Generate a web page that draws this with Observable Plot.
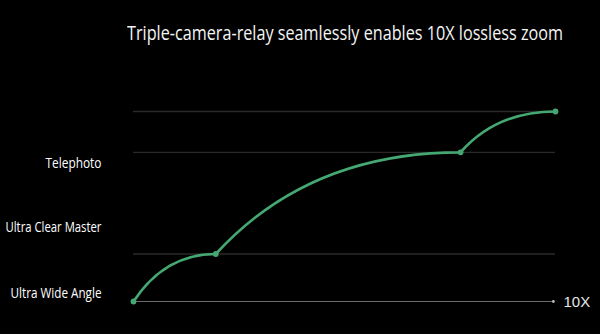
<!DOCTYPE html>
<html>
<head>
<meta charset="utf-8">
<script src="https://cdn.jsdelivr.net/npm/d3@7"></script>
<script src="https://cdn.jsdelivr.net/npm/@observablehq/plot@0.6"></script>
<style>
  html, body { margin: 0; padding: 0; background: #000; }
  body { width: 600px; height: 334px; position: relative; overflow: hidden; font-family: "Open Sans", "Noto Sans", sans-serif; }
  #title { position: absolute; left: 127px; top: 21px; font-size: 20px; line-height: 24px; color: #f4f4f4; white-space: nowrap; transform-origin: 0 50%; }
  #chart { position: absolute; left: 0; top: 60px; }
</style>
</head>
<body>
<div id="title"></div>
<div id="chart"></div>
<script>
// ---- data ----
const titleText = "Triple-camera-relay seamlessly enables 10X lossless zoom";
const zoomX = [0, 1.95, 7.75, 10];          // relay switch points along zoom axis
const levelY = [0, 0.25, 0.785, 1];         // relative level at each point
const gridLevels = [0.25, 0.785, 1];
const tickPositions = [0.04, 0.39, 0.726];
const tickLabels = ["Ultra Wide Angle", "Ultra Clear Master", "Telephoto"];
const maxZoomLabel = "10X";

const points = zoomX.map((x, i) => ({x, y: levelY[i]}));

// custom curve: each segment rises and flattens to a horizontal tangent
const K = 0.38;
function relayCurve(context) {
  let px, py, i = 0;
  return {
    areaStart() {}, areaEnd() {},
    lineStart() { i = 0; },
    lineEnd() {},
    point(x, y) {
      x = +x; y = +y;
      if (i++ === 0) context.moveTo(x, y);
      else context.quadraticCurveTo(px + K * (x - px), y, x, y);
      px = x; py = y;
    }
  };
}

const green = "#45a872";

const chart = Plot.plot({
  width: 600,
  height: 274,
  marginTop: 51,
  marginBottom: 33,
  marginLeft: 133,
  marginRight: 45,
  style: {background: "transparent", color: "#fff", fontFamily: "'Open Sans', 'Noto Sans', sans-serif", overflow: "visible"},
  x: {domain: [0, 10], axis: null},
  y: {domain: [0, 1], axis: null},
  marks: [
    Plot.ruleY(gridLevels, {x1: 0, x2: 10, stroke: "#2a2a2a", strokeWidth: 1.3}),
    Plot.ruleY([0], {x1: 0, x2: 9.95, stroke: "#6a6a6a", strokeWidth: 1}),
    Plot.dot([{x: 9.95, y: 0}], {x: "x", y: "y", r: 1.4, fill: "#bbb"}),
    Plot.axisY(tickPositions, {
      label: null,
      tickFormat: (d, i) => tickLabels[i],
      tickSize: 0, tickPadding: 32, fontSize: 14, fill: "#fff", textAnchor: "end"
    }),
    Plot.line(points, {x: "x", y: "y", curve: relayCurve, stroke: green, strokeWidth: 2.6}),
    Plot.dot(points, {x: "x", y: "y", r: 2.9, fill: green}),
    Plot.text([{x: 10, y: 0, label: maxZoomLabel}], {
      x: "x", y: "y", text: "label", dx: 8, dy: 1, textAnchor: "start",
      fontSize: 15, fill: "#e6e6e6", fontFamily: "'Liberation Sans', Arial, sans-serif"
    })
  ]
});
document.getElementById("chart").appendChild(chart);

// condense text widths to match the reference typeface
const title = document.getElementById("title");
title.textContent = titleText;
const tw = title.getBoundingClientRect().width;
title.style.transform = `scaleX(${436 / tw})`;

const targetWidths = {"Ultra Wide Angle": 91, "Ultra Clear Master": 96, "Telephoto": 56};
chart.querySelectorAll("text").forEach(t => {
  const w = targetWidths[t.textContent];
  if (w) { t.setAttribute("textLength", w); t.setAttribute("lengthAdjust", "spacingAndGlyphs"); }
});
</script>
</body>
</html>
